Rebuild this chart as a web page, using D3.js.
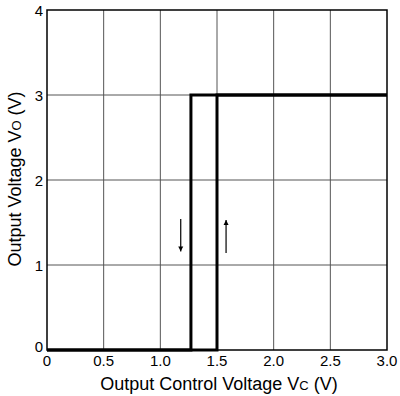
<!DOCTYPE html>
<html><head><meta charset="utf-8">
<script src="https://cdn.jsdelivr.net/npm/d3@7"></script>
<style>body{margin:0;background:#fff}svg{display:block}text{font-family:"Liberation Sans",Arial,sans-serif;fill:#000}</style>
</head><body>
<script>
const xTicks = [0, 0.5, 1.0, 1.5, 2.0, 2.5, 3.0];
const xTickLabels = ["0", "0.5", "1.0", "1.5", "2.0", "2.5", "3.0"];
const yTicks = [0, 1, 2, 3, 4];
const fallingVc = [3.0, 1.27, 1.27, 0];
const fallingVo = [3, 3, 0, 0];
const risingVc = [0, 1.5, 1.5, 3.0];
const risingVo = [0, 0, 3, 3];
const arrowDown = {vc: 1.18, from: 1.54, to: 1.16};
const arrowUp = {vc: 1.58, from: 1.14, to: 1.53};

const W = 400, H = 396;
const m = {l: 47, r: 13, t: 10, b: 46};
const svg = d3.select("body").append("svg").attr("width", W).attr("height", H);
const x = d3.scaleLinear().domain([0, 3]).range([m.l, W - m.r]);
const y = d3.scaleLinear().domain([0, 4]).range([H - m.b, m.t]);

const g = svg.append("g");
// grid
g.selectAll(".vg").data(xTicks.slice(1, -1)).join("line")
  .attr("x1", d => x(d)).attr("x2", d => x(d)).attr("y1", y(0)).attr("y2", y(4))
  .attr("stroke", "#555").attr("stroke-width", 1);
g.selectAll(".hg").data(yTicks.slice(1, -1)).join("line")
  .attr("y1", d => y(d)).attr("y2", d => y(d)).attr("x1", x(0)).attr("x2", x(3))
  .attr("stroke", "#555").attr("stroke-width", 1);
// frame
g.append("rect").attr("x", x(0)).attr("y", y(4)).attr("width", x(3) - x(0)).attr("height", y(0) - y(4))
  .attr("fill", "none").attr("stroke", "#000").attr("stroke-width", 1.5);

// curves
const line = d3.line().x(d => x(d[0])).y(d => y(d[1]));
[[fallingVc, fallingVo], [risingVc, risingVo]].forEach(([a, b]) => {
  g.append("path").datum(a.map((v, i) => [v, b[i]])).attr("d", line)
    .attr("fill", "none").attr("stroke", "#000").attr("stroke-width", 3).attr("stroke-linejoin", "miter");
});

// arrows
svg.append("defs").append("marker").attr("id", "ah").attr("viewBox", "0 0 10 10")
  .attr("refX", 10).attr("refY", 5).attr("markerWidth", 5).attr("markerHeight", 8)
  .attr("markerUnits", "userSpaceOnUse").attr("orient", "auto")
  .append("path").attr("d", "M0,0 L10,5 L0,10 Z").attr("fill", "#000");
[arrowDown, arrowUp].forEach(a => {
  g.append("line").attr("x1", x(a.vc)).attr("x2", x(a.vc)).attr("y1", y(a.from)).attr("y2", y(a.to))
    .attr("stroke", "#000").attr("stroke-width", 1.2).attr("marker-end", "url(#ah)");
});

// tick labels
g.selectAll(".xt").data(xTicks).join("text")
  .attr("x", d => x(d)).attr("y", y(0) + 16).attr("text-anchor", "middle")
  .attr("font-size", 15).text((d, i) => xTickLabels[i]);
g.selectAll(".yt").data(yTicks).join("text")
  .attr("x", x(0) - 4).attr("y", d => y(d) + (d === 0 ? 2 : 6)).attr("text-anchor", "end")
  .attr("font-size", 15).text(d => d);

// axis titles
const xt = svg.append("text").attr("x", 219).attr("y", 390).attr("text-anchor", "middle").attr("font-size", 18);
xt.append("tspan").text("Output Control Voltage V");
xt.append("tspan").attr("font-size", 13).text("C");
xt.append("tspan").text(" (V)");
const yt = svg.append("text").attr("transform", `translate(21,179) rotate(-90)`)
  .attr("text-anchor", "middle").attr("font-size", 18);
yt.append("tspan").text("Output Voltage V");
yt.append("tspan").attr("font-size", 13).text("O");
yt.append("tspan").text(" (V)");
</script>
</body></html>
